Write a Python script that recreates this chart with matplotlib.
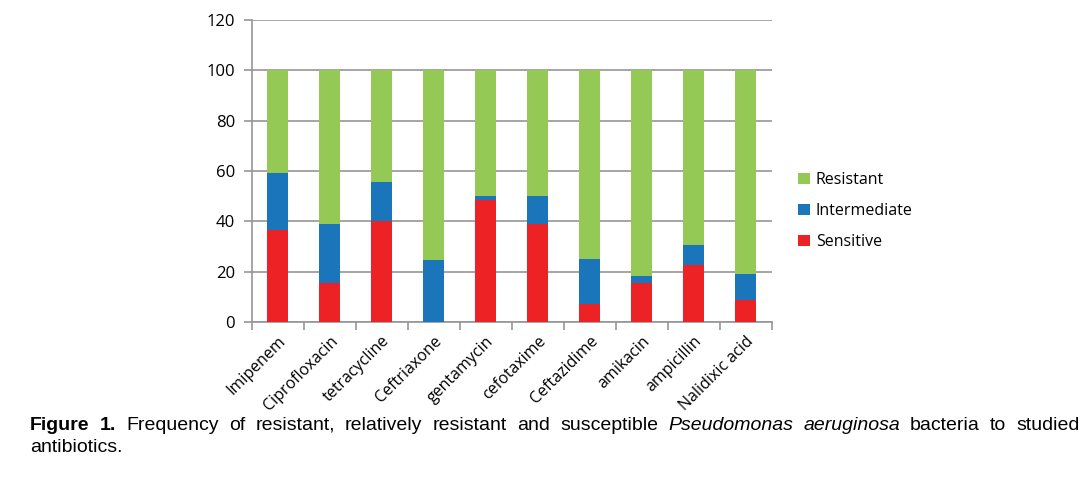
import numpy as np
import matplotlib.pyplot as plt

# values (percent)
drugs = ["Imipenem", "Ciprofloxacin", "tetracycline", "Ceftriaxone", "gentamycin",
         "cefotaxime", "Ceftazidime", "amikacin", "ampicillin", "Nalidixic acid"]
sensitive = [36.4, 15.3, 40.0, 0.0, 48.3, 38.8, 7.2, 15.3, 22.7, 8.9]
intermediate = [22.7, 23.8, 15.5, 24.5, 1.8, 11.1, 18.0, 2.8, 8.0, 10.0]
resistant = [100 - s - i for s, i in zip(sensitive, intermediate)]

fig = plt.figure(figsize=(10.91, 4.78), dpi=100)
W, H = 1091, 478
ax = fig.add_axes([251.7 / W, 1 - 322 / H, 520 / W, 302 / H])

x = np.arange(len(drugs))
w = 0.4
red, blue, green = "#ED2224", "#1B75BB", "#95C955"
ax.bar(x, sensitive, w, color=red, label="Sensitive", zorder=3)
ax.bar(x, intermediate, w, bottom=sensitive, color=blue, label="Intermediate", zorder=3)
bottom2 = [s + i for s, i in zip(sensitive, intermediate)]
ax.bar(x, resistant, w, bottom=bottom2, color=green, label="Resistant", zorder=3)

ax.set_xlim(-0.5, len(drugs) - 0.5)
ax.set_ylim(0, 120)
ax.set_yticks(range(0, 121, 20))
ax.yaxis.grid(True, color="#969696", linewidth=1.2, zorder=0)
for s in ["top", "right"]:
    ax.spines[s].set_visible(False)
for s in ["bottom", "left"]:
    ax.spines[s].set_color("#969696")
    ax.spines[s].set_linewidth(1.2)
ax.tick_params(axis="y", length=6, color="#969696", width=1.2, pad=6, labelsize=12)
ax.set_xticks(np.arange(-0.5, len(drugs)), minor=False)
ax.set_xticklabels([])
ax.set_xticks(x, minor=True)
ax.set_xticklabels(drugs, minor=True, rotation=45, ha="right", rotation_mode="anchor",
                   fontsize=11.5)
ax.tick_params(axis="x", which="major", length=6, color="#969696", width=1.2)
ax.tick_params(axis="x", which="minor", length=0, pad=8)
for lab in ax.get_xticklabels(minor=True) + ax.get_yticklabels():
    lab.set_family("Open Sans")

h, l = ax.get_legend_handles_labels()
leg = fig.legend(h[::-1], l[::-1], loc="center left", bbox_to_anchor=(784 / W, 1 - 211 / H),
                 frameon=False, handlelength=0.7, handleheight=0.7, handletextpad=0.4,
                 labelspacing=0.95, prop={"family": "Open Sans", "size": 11.5})

# caption, first line justified between x0 and x1
cap_font = "Liberation Sans"
words = [("Figure", "bold", "normal"), ("1.", "bold", "normal"),
         ("Frequency", "normal", "normal"), ("of", "normal", "normal"),
         ("resistant,", "normal", "normal"), ("relatively", "normal", "normal"),
         ("resistant", "normal", "normal"), ("and", "normal", "normal"),
         ("susceptible", "normal", "normal"), ("Pseudomonas", "normal", "italic"),
         ("aeruginosa", "normal", "italic"), ("bacteria", "normal", "normal"),
         ("to", "normal", "normal"), ("studied", "normal", "normal")]
x0, x1, y1 = 30, 1080, 425
fig.canvas.draw()
r = fig.canvas.get_renderer()
texts = []
widths = []
for wd, wt, st in words:
    t = fig.text(0, 1 - y1 / H, wd, fontsize=14, fontweight=wt, fontstyle=st,
                 family=cap_font, va="center", ha="left")
    texts.append(t)
    widths.append(t.get_window_extent(r).width)
gap = (x1 - x0 - sum(widths)) / (len(words) - 1)
pos = x0
for t, wdt in zip(texts, widths):
    t.set_x(pos / W)
    pos += wdt + gap
fig.text(x0 / W, 1 - 447 / H, "antibiotics.", fontsize=14, family=cap_font,
         va="center", ha="left")

fig.savefig("out.png", dpi=100)
